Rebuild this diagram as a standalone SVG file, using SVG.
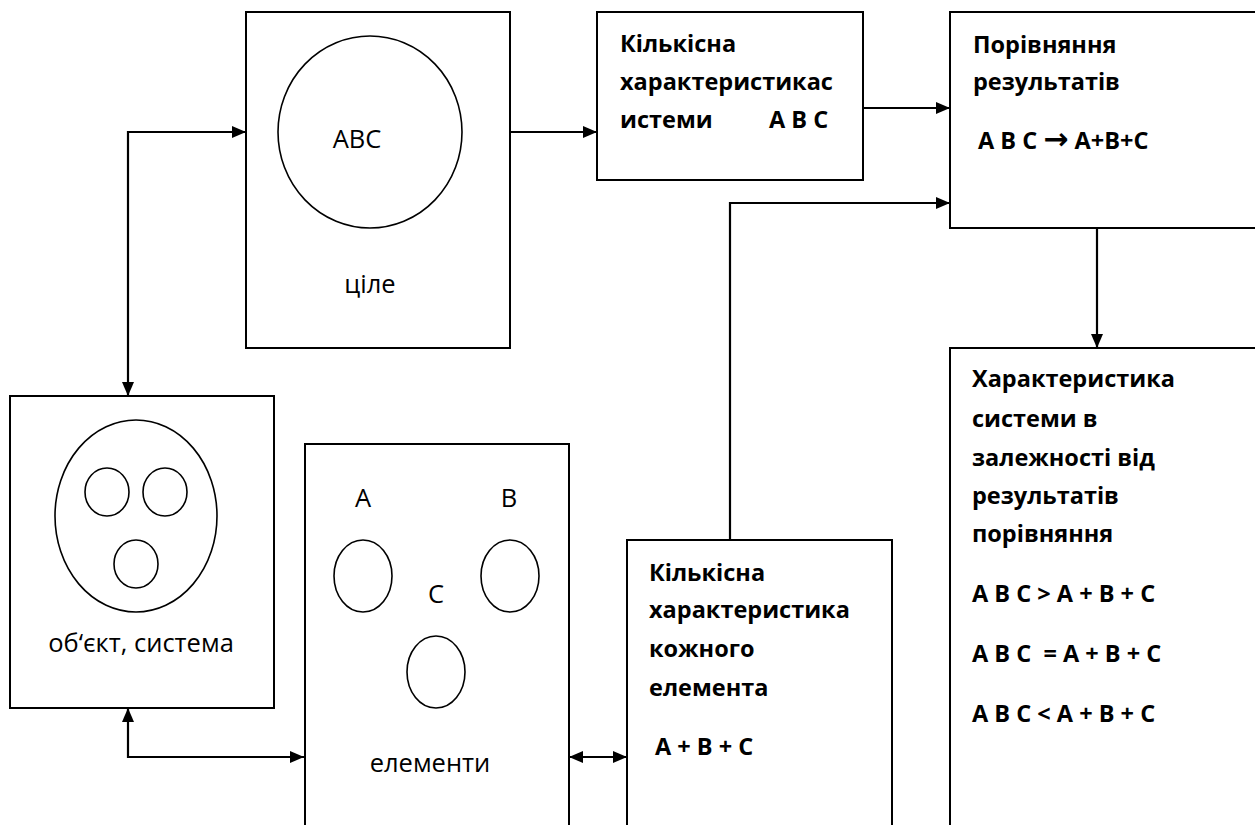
<svg xmlns="http://www.w3.org/2000/svg" width="1255" height="825" viewBox="0 0 1255 825">
<defs>
<marker id="ah" markerUnits="userSpaceOnUse" markerWidth="15" markerHeight="12" refX="14" refY="6" orient="auto-start-reverse">
<path d="M0,0 L14,6 L0,12 z" fill="#000"/>
</marker>
<style>
.box{fill:#fff;stroke:#000;stroke-width:2}
.ov{fill:#fff;stroke:#000;stroke-width:1.6}
.con{fill:none;stroke:#000;stroke-width:2.2}
.r{font-family:"Open Sans","Noto Sans",sans-serif;font-size:25.5px;fill:#000}
.b{font-family:"Open Sans","Noto Sans",sans-serif;font-size:23.5px;font-weight:bold;fill:#000}
.arr{font-family:"DejaVu Sans",sans-serif;font-size:30px;font-weight:bold}
</style>
</defs>
<rect width="1255" height="825" fill="#fff"/>
<g id="connectors">
<path class="con" d="M510,132 L597,132" marker-end="url(#ah)"/>
<path class="con" d="M863,108 L950,108" marker-end="url(#ah)"/>
<path class="con" d="M730,540 L730,203 L950,203" marker-end="url(#ah)"/>
<path class="con" d="M1097,228 L1097,348" marker-end="url(#ah)"/>
<path class="con" d="M128,396 L128,132 L246,132" marker-start="url(#ah)" marker-end="url(#ah)"/>
<path class="con" d="M128,708 L128,757 L304,757" marker-start="url(#ah)" marker-end="url(#ah)"/>
<path class="con" d="M569,757 L627,757" marker-start="url(#ah)" marker-end="url(#ah)"/>
</g>
<g id="whole">
<rect class="box" x="246" y="12" width="264" height="336"/>
<ellipse class="ov" cx="370" cy="132" rx="92" ry="96"/>
<text class="r" x="357" y="148" text-anchor="middle">ABC</text>
<text class="r" x="370" y="293" text-anchor="middle">ціле</text>
</g>
<g id="system-quant">
<rect class="box" x="597" y="12" width="266" height="168"/>
<text class="b" x="620" y="52">Кількісна</text>
<text class="b" x="620" y="90">характеристикас</text>
<text class="b" x="620" y="128">истеми<tspan x="769">A B C</tspan></text>
</g>
<g id="compare">
<rect class="box" x="950" y="12" width="320" height="216"/>
<text class="b" x="973" y="53">Порівняння</text>
<text class="b" x="973" y="90">результатів</text>
<text class="b" x="978" y="149">A B C <tspan class="arr">→</tspan> A+B+C</text>
</g>
<g id="result">
<rect class="box" x="950" y="348" width="320" height="490"/>
<text class="b" x="972" y="387">Характеристика</text>
<text class="b" x="972" y="427">системи в</text>
<text class="b" x="972" y="466">залежності від</text>
<text class="b" x="972" y="504">результатів</text>
<text class="b" x="972" y="542">порівняння</text>
<text class="b" x="972" y="602">A B C &gt; A + B + C</text>
<text class="b" x="972" y="662">A B C&#160; = A + B + C</text>
<text class="b" x="972" y="722">A B C &lt; A + B + C</text>
</g>
<g id="object">
<rect class="box" x="10" y="396" width="264" height="312"/>
<ellipse class="ov" cx="136" cy="516" rx="81" ry="96"/>
<ellipse class="ov" cx="107" cy="492" rx="22" ry="24"/>
<ellipse class="ov" cx="165" cy="492" rx="22" ry="24"/>
<ellipse class="ov" cx="136" cy="564" rx="22" ry="24"/>
<text class="r" x="141" y="652" text-anchor="middle">об‘єкт, система</text>
</g>
<g id="elements">
<rect class="box" x="305" y="444" width="264" height="400"/>
<text class="r" x="363" y="507" text-anchor="middle">A</text>
<text class="r" x="509" y="507" text-anchor="middle">B</text>
<text class="r" x="436" y="603" text-anchor="middle">C</text>
<ellipse class="ov" cx="363" cy="576" rx="29" ry="36"/>
<ellipse class="ov" cx="510" cy="576" rx="29" ry="36"/>
<ellipse class="ov" cx="436" cy="672" rx="29" ry="36"/>
<text class="r" x="430" y="772" text-anchor="middle">елементи</text>
</g>
<g id="element-quant">
<rect class="box" x="627" y="540" width="265" height="300"/>
<text class="b" x="649" y="581">Кількісна</text>
<text class="b" x="649" y="618">характеристика</text>
<text class="b" x="649" y="657">кожного</text>
<text class="b" x="649" y="696">елемента</text>
<text class="b" x="655" y="755">A + B + C</text>
</g>
</svg>
